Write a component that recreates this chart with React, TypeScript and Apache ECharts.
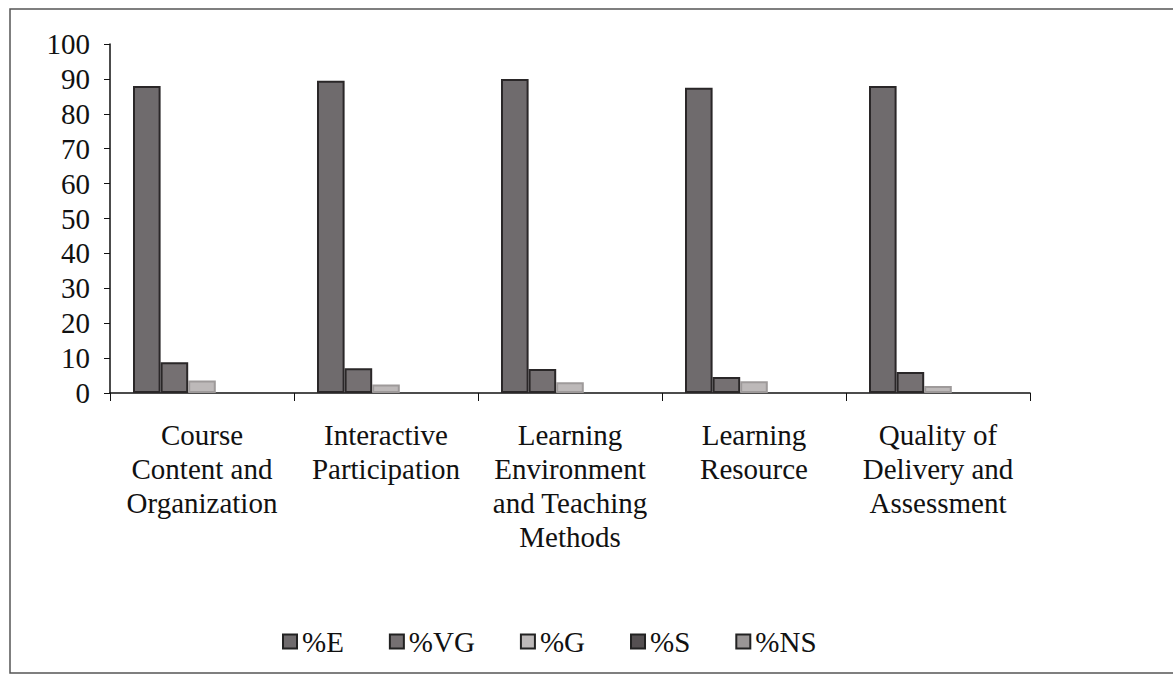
import React, { useEffect, useRef } from "react";
import * as echarts from "echarts";

const categories = [
  "Course\nContent and\nOrganization",
  "Interactive\nParticipation",
  "Learning\nEnvironment\nand Teaching\nMethods",
  "Learning\nResource",
  "Quality of\nDelivery and\nAssessment",
];
const seriesNames = ["%E", "%VG", "%G", "%S", "%NS"];
const valE = [88, 89.5, 90, 87.5, 88];
const valVG = [8.8, 7.1, 6.9, 4.6, 6];
const valG = [3.6, 2.4, 3.1, 3.4, 2];
const valS = [0, 0, 0, 0, 0];
const valNS = [0, 0, 0, 0, 0];
const yTicks = [0, 10, 20, 30, 40, 50, 60, 70, 80, 90, 100];

const fills = ["#6f6b6d", "#757072", "#bdb9b9", "#555052", "#9a9696"];
const borders = ["#2a2728", "#2a2728", "#9e9a9a", "#2a2728", "#7a7676"];
const borderW = [2, 2, 2, 0, 0];

export default function App() {
  const ref = useRef<HTMLDivElement>(null);
  useEffect(() => {
    document.body.style.margin = "0";
    const chart = echarts.init(ref.current!, null, { renderer: "svg" });
    const data = [valE, valVG, valG, valS, valNS];
    const font = "'Liberation Serif', 'Times New Roman', serif";
    chart.setOption({
      animation: false,
      backgroundColor: "#ffffff",
      textStyle: { fontFamily: font },
      grid: { left: 110, right: 143, top: 44, bottom: 285, containLabel: false },
      legend: {
        data: seriesNames.map((n, i) => ({
          name: n,
          itemStyle: { color: fills[i], borderColor: "#222", borderWidth: 2 },
        })),
        top: 622,
        left: 277,
        itemWidth: 14,
        itemHeight: 14,
        itemGap: 45,
        icon: "rect",
        textStyle: { fontFamily: font, fontSize: 29, lineHeight: 29, color: "#111" },
      },
      xAxis: {
        type: "category",
        data: categories,
        axisLine: { lineStyle: { color: "#111", width: 1.5 } },
        axisTick: { show: true, alignWithLabel: false, length: 8, lineStyle: { color: "#111" } },
        axisLabel: {
          interval: 0,
          fontFamily: font,
          fontSize: 29,
          color: "#111",
          lineHeight: 34,
          margin: 25,
        },
      },
      yAxis: {
        type: "value",
        min: 0,
        max: 100,
        interval: 10,
        splitLine: { show: false },
        axisLine: { show: true, lineStyle: { color: "#111", width: 1.5 } },
        axisTick: { show: true, length: 6, lineStyle: { color: "#111" } },
        axisLabel: {
          fontFamily: font,
          fontSize: 29,
          color: "#111",
          margin: 20,
          formatter: (v: number) => (yTicks.includes(v) ? String(v) : ""),
        },
      },
      series: seriesNames.map((name, i) => ({
        name,
        type: "bar",
        data: data[i],
        barGap: "0%",
        barCategoryGap: "25%",
        itemStyle: { color: fills[i], borderColor: borders[i], borderWidth: borderW[i] },
      })),
      graphic: [
        {
          type: "rect",
          shape: { x: 10, y: 9, width: 1175, height: 664 },
          style: { fill: "none", stroke: "#555", lineWidth: 1.5 },
          silent: true,
        },
      ],
    });
    return () => chart.dispose();
  }, []);
  return <div ref={ref} style={{ width: 1173, height: 678 }} />;
}
